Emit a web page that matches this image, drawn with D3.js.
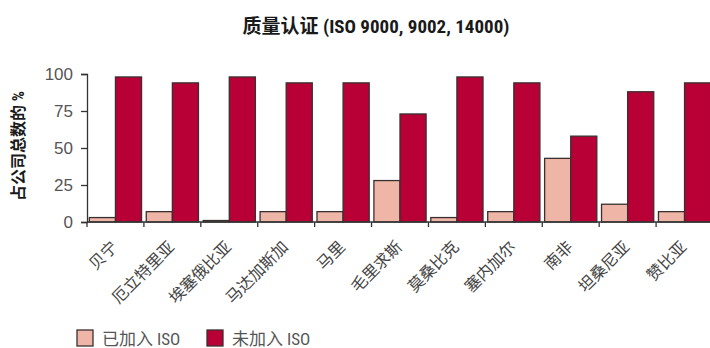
<!DOCTYPE html>
<html>
<head>
<meta charset="utf-8">
<script src="https://cdn.jsdelivr.net/npm/d3@7"></script>
<style>
  html, body { margin: 0; padding: 0; background: #fff; }
  svg { display: block; }
  text { font-family: "Liberation Sans Narrow", "Roboto Condensed", "Noto Sans CJK SC", sans-serif; }
</style>
</head>
<body>
<svg id="chart" width="710" height="348"></svg>
<script>
// Countries along the x axis
const countries = ["贝宁", "厄立特里亚", "埃塞俄比亚", "马达加斯加", "马里", "毛里求斯",
                   "莫桑比克", "塞内加尔", "南非", "坦桑尼亚", "赞比亚"];
// Share of companies with ISO certification (%)
const withISO = [3, 7, 1, 7, 7, 28, 3, 7, 43, 12, 7];
// Share of companies without ISO certification (%)
const withoutISO = [98, 94, 98, 94, 94, 73, 98, 94, 58, 88, 94];
const seriesNames = ["已加入 ISO", "未加入 ISO"];
const seriesColors = ["#efb5a6", "#b80036"];
const yTicks = [0, 25, 50, 75, 100];

const svg = d3.select("#chart");
const plotLeft = 87, plotRight = 713, plotTop = 74, plotBottom = 222;
const cjk = "'Noto Sans CJK SC', sans-serif";

const x = d3.scaleBand().domain(countries).range([plotLeft, plotRight]).paddingInner(0).paddingOuter(0);
const sub = d3.scaleBand().domain([0, 1]).range([0, x.bandwidth()]).paddingInner(0).paddingOuter(0.09);
const y = d3.scaleLinear().domain([0, 100]).range([plotBottom, plotTop]);

// Title
svg.append("text")
  .attr("x", 376).attr("y", 33)
  .attr("text-anchor", "middle")
  .style("font-weight", "bold").style("font-size", "19px").attr("fill", "#1a1a1a")
  .text("质量认证 (ISO 9000, 9002, 14000)");

// Y axis title
svg.append("text")
  .attr("transform", `translate(24,${(plotTop + plotBottom) / 2 - 2}) rotate(-90)`)
  .attr("text-anchor", "middle")
  .style("font-weight", "bold").style("font-size", "16px").attr("fill", "#1a1a1a")
  .text("占公司总数的 %");

// Bars
const data = countries.map((c, i) => ({ c, vals: [withISO[i], withoutISO[i]] }));
const groups = svg.append("g").selectAll("g").data(data).join("g")
  .attr("transform", d => `translate(${x(d.c)},0)`);
groups.selectAll("rect").data(d => d.vals.map((v, k) => ({ v, k }))).join("rect")
  .attr("x", d => sub(d.k))
  .attr("width", sub.bandwidth())
  .attr("y", d => y(d.v))
  .attr("height", d => y(0) - y(d.v))
  .attr("fill", d => seriesColors[d.k])
  .attr("stroke", "#3a3030").attr("stroke-width", 1.3);

// Y axis
const yAxis = svg.append("g").attr("transform", `translate(${plotLeft},0)`)
  .call(d3.axisLeft(y).tickValues(yTicks).tickSize(6).tickPadding(8));
yAxis.select(".domain").attr("stroke", "#333").attr("stroke-width", 1.3);
yAxis.selectAll(".tick line").attr("stroke", "#333").attr("stroke-width", 1.3);
yAxis.selectAll(".tick text")
  .attr("fill", "#555").style("font-size", "17px")
  .style("font-family", "'Liberation Sans Narrow', sans-serif");

// X axis with ticks at category boundaries
const xAxisG = svg.append("g");
xAxisG.append("line")
  .attr("x1", plotLeft).attr("x2", plotRight).attr("y1", plotBottom).attr("y2", plotBottom)
  .attr("stroke", "#333").attr("stroke-width", 1.3);
xAxisG.selectAll("line.tk").data(countries).join("line").attr("class", "tk")
  .attr("x1", d => x(d)).attr("x2", d => x(d))
  .attr("y1", plotBottom).attr("y2", plotBottom + 5)
  .attr("stroke", "#333").attr("stroke-width", 1.3);
xAxisG.selectAll("text").data(countries).join("text")
  .attr("transform", d => `translate(${x(d) + x.bandwidth() / 2 + 3},${plotBottom + 26}) rotate(-45)`)
  .attr("text-anchor", "end")
  .style("font-family", cjk).style("font-size", "16px").attr("fill", "#444")
  .text(d => d);

// Legend
const legend = svg.append("g").selectAll("g").data(seriesNames).join("g")
  .attr("transform", (d, i) => `translate(${77 + i * 130},330)`);
legend.append("rect")
  .attr("width", 16).attr("height", 16)
  .attr("fill", (d, i) => seriesColors[i])
  .attr("stroke", "#3a3030").attr("stroke-width", 1.3);
legend.append("text")
  .attr("x", 25).attr("y", 15)
  .style("font-size", "17px").attr("fill", "#555")
  .text(d => d);
</script>
</body>
</html>
